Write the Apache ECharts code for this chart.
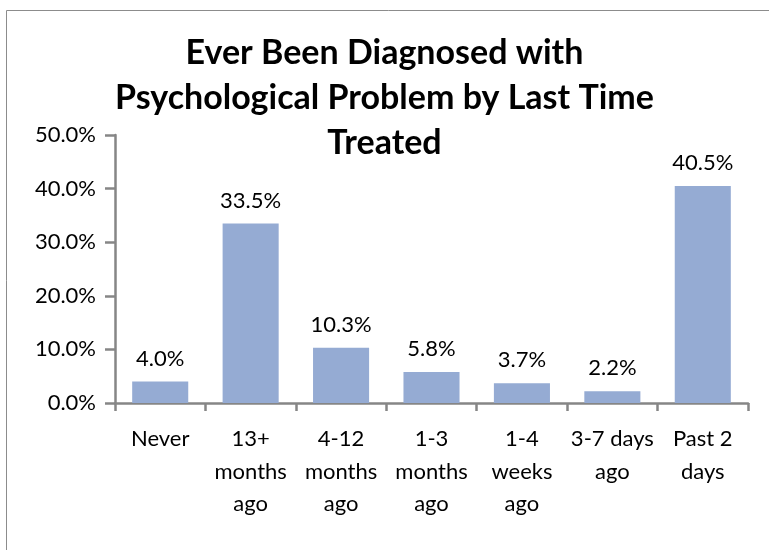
<!DOCTYPE html>
<html><head><meta charset="utf-8">
<script src="https://cdn.jsdelivr.net/npm/echarts@6/dist/echarts.min.js"></script>
<style>html,body{margin:0;padding:0;background:#fff}#c{width:769px;height:550px}</style>
</head><body><div id="c"></div>
<script>
const categories = ['Never', '13+\nmonths\nago', '4-12\nmonths\nago', '1-3\nmonths\nago', '1-4\nweeks\nago', '3-7 days\nago', 'Past 2\ndays'];
const values = [4.0, 33.5, 10.3, 5.8, 3.7, 2.2, 40.5];
const titleText = 'Ever Been Diagnosed with\nPsychological Problem by Last Time\nTreated';
const yTicks = [0, 10, 20, 30, 40, 50];

const FONT = 'Lato';
const chart = echarts.init(document.getElementById('c'));
chart.setOption({
  animation: false,
  backgroundColor: '#fff',
  textStyle: { fontFamily: FONT },
  graphic: [{ type: 'rect', shape: { x: 6.5, y: 10.5, width: 780, height: 560 }, style: { fill: 'none', stroke: '#8c8c8c', lineWidth: 1 }, silent: true }],
  title: {
    text: titleText, left: 'center', top: 26,
    textStyle: { fontFamily: FONT, fontSize: 34, fontWeight: 'bold', color: '#000', lineHeight: 45 }
  },
  grid: { left: 115, right: 21, top: 135, bottom: 147, containLabel: false },
  xAxis: {
    type: 'category', data: categories,
    axisLine: { lineStyle: { color: '#868686', width: 2.5 } },
    axisTick: { show: true, alignWithLabel: false, length: 8, lineStyle: { color: '#868686', width: 2.5 } },
    axisLabel: { color: '#000', fontSize: 22, lineHeight: 32.5, margin: 20, interval: 0, fontFamily: FONT }
  },
  yAxis: {
    type: 'value', min: yTicks[0], max: yTicks[yTicks.length - 1], interval: 10,
    splitLine: { show: false },
    axisLine: { show: true, lineStyle: { color: '#868686', width: 2.5 } },
    axisTick: { show: true, inside: false, length: 10, lineStyle: { color: '#868686', width: 2.5 } },
    axisLabel: { color: '#000', fontSize: 22, margin: 19, fontFamily: FONT, formatter: v => v.toFixed(1) + '%' }
  },
  series: [{
    type: 'bar', data: values, barWidth: '62%',
    itemStyle: { color: '#95abd3' },
    label: { show: true, position: 'top', distance: 12, color: '#000', fontSize: 22, fontFamily: FONT, formatter: p => p.value.toFixed(1) + '%' }
  }]
});
</script></body></html>
